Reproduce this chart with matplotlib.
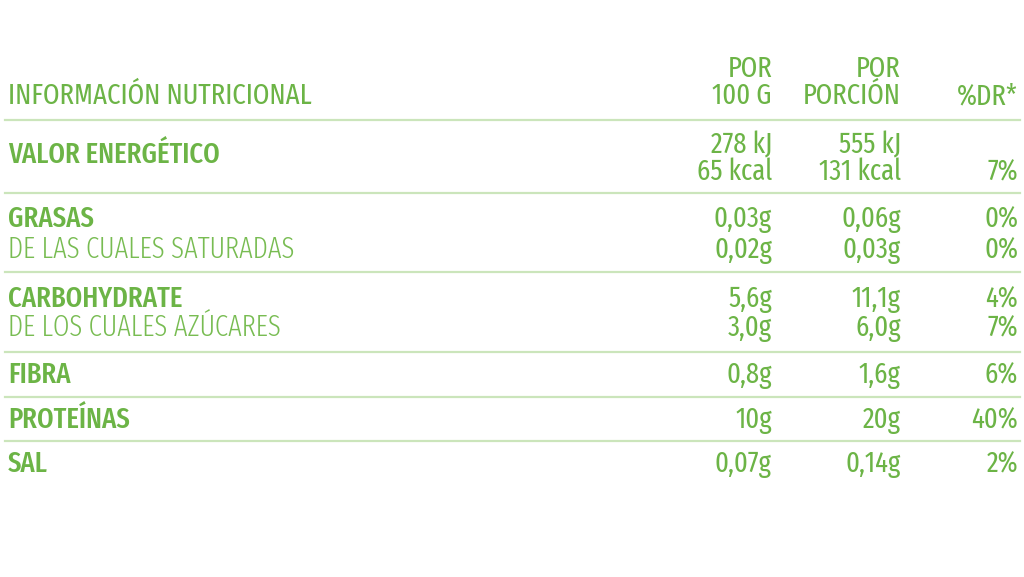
import matplotlib.pyplot as plt
from matplotlib.lines import Line2D

# table contents
header_cols = ["POR\n100 G", "POR\nPORCIÓN", "%DR*"]
labels = ["VALOR ENERGÉTICO", "GRASAS", "DE LAS CUALES SATURADAS",
          "CARBOHYDRATE", "DE LOS CUALES AZÚCARES",
          "FIBRA", "PROTEÍNAS", "SAL"]
sub_row = [False, False, True, False, True, False, False, False]
per_100g = ["278 kJ\n65 kcal", "0,03g", "0,02g", "5,6g", "3,0g", "0,8g", "10g", "0,07g"]
per_portion = ["555 kJ\n131 kcal", "0,06g", "0,03g", "11,1g", "6,0g", "1,6g", "20g", "0,14g"]
dr = ["7%", "0%", "0%", "4%", "7%", "6%", "40%", "2%"]

# layout (pixels)
W, H = 1024, 577
col_x = [772, 901, 1018]
label_x = 8
label_base = [163, 227, 258, 307, 336, 383, 428, 472]
value_base = [180, 227, 258, 307, 336, 383, 428, 472]
rule_y = [120, 193, 272, 352, 397, 441]

GREEN = "#6cb446"
LIGHT = "#78bc52"
RULE = "#cbe5bb"
FONT = ["Fira Sans Extra Condensed", "DejaVu Sans"]
FS = 20.8
LINE_H = 27

fig = plt.figure(figsize=(W / 100, H / 100), dpi=100)
ax = fig.add_axes([0, 0, 1, 1])
ax.set_xlim(0, W)
ax.set_ylim(H, 0)
ax.axis("off")


def put(x, y, s, ha="left", color=GREEN, weight=400):
    # multi-line strings stack upward from the last baseline
    lines = s.split("\n")
    for i, ln in enumerate(lines):
        yy = y - (len(lines) - 1 - i) * LINE_H
        ax.text(x, yy, ln, ha=ha, va="baseline", color=color,
                fontsize=FS, family=FONT, fontweight=weight)


put(label_x, 104, "INFORMACIÓN NUTRICIONAL", weight=400)
for x, h in zip(col_x, header_cols):
    put(x, 104, h, ha="right", weight=400)

for y in rule_y:
    ax.add_line(Line2D([5, 1020], [y, y], color=RULE, lw=1.6))

for i, lab in enumerate(labels):
    put(label_x, label_base[i], lab,
        color=LIGHT if sub_row[i] else GREEN,
        weight=300 if sub_row[i] else 500)
    vb = value_base[i] if "\n" in per_100g[i] else label_base[i]
    put(col_x[0], vb, per_100g[i], ha="right")
    put(col_x[1], vb, per_portion[i], ha="right")
    put(col_x[2], value_base[i], dr[i], ha="right")

fig.savefig("out.png", dpi=100, facecolor="white")
